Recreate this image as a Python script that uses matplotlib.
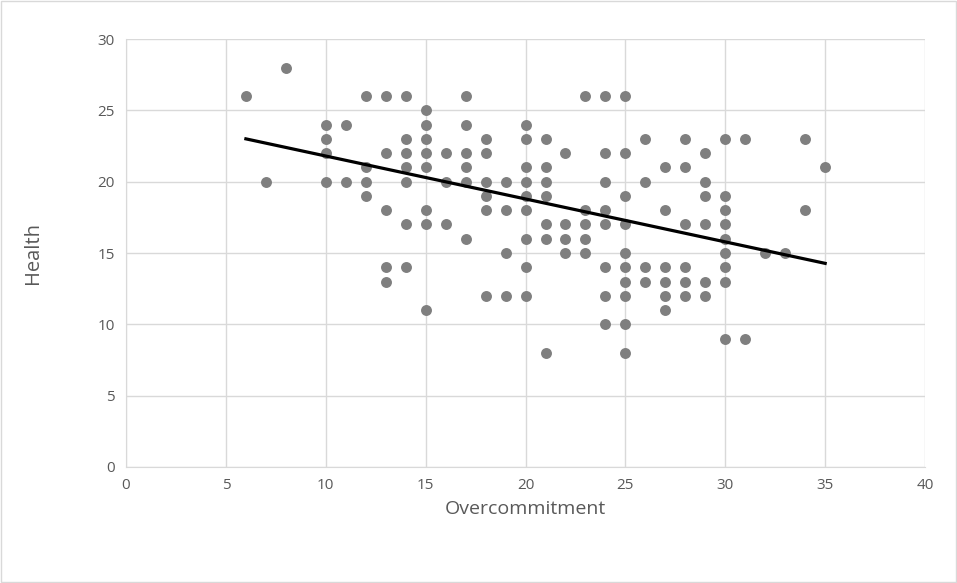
import matplotlib.pyplot as plt
import numpy as np
from matplotlib.patches import Rectangle

# Overcommitment score -> list of Health scores observed at that score
health_by_overcommitment = {
    6: [26],
    7: [20],
    8: [28],
    10: [24, 23, 22, 20],
    11: [24, 20],
    12: [26, 21, 20, 19],
    13: [26, 22, 18, 14, 13],
    14: [26, 23, 22, 21, 20, 17, 14],
    15: [25, 24, 23, 22, 21, 18, 17, 11],
    16: [22, 20, 17],
    17: [26, 24, 22, 21, 20, 16],
    18: [23, 22, 20, 19, 18, 12],
    19: [20, 18, 15, 12],
    20: [24, 23, 21, 20, 19, 18, 16, 14, 12],
    21: [23, 21, 20, 19, 17, 16, 8],
    22: [22, 17, 16, 15],
    23: [26, 18, 17, 16, 15],
    24: [26, 22, 20, 18, 17, 14, 12, 10],
    25: [26, 22, 19, 17, 15, 14, 13, 12, 10, 8],
    26: [23, 20, 14, 13],
    27: [21, 18, 14, 13, 12, 11],
    28: [23, 21, 17, 14, 13, 12],
    29: [22, 20, 19, 17, 13, 12],
    30: [23, 19, 18, 17, 16, 15, 14, 13, 9],
    31: [23, 9],
    32: [15],
    33: [15],
    34: [23, 18],
    35: [21],
}

# linear trendline as shown on the chart (overlapping points hide some data)
trend_slope = -0.301
trend_intercept = 24.81

overcommitment = []
health = []
for k, vals in health_by_overcommitment.items():
    for v in vals:
        overcommitment.append(k)
        health.append(v)
overcommitment = np.array(overcommitment)
health = np.array(health)

trend_x = np.array([overcommitment.min(), overcommitment.max()])
trend_y = trend_slope * trend_x + trend_intercept

plt.rcParams['font.family'] = ['Open Sans', 'DejaVu Sans']

fig = plt.figure(figsize=(9.57, 5.83), dpi=100)
ax = fig.add_axes([0.1317, 0.199, 0.8349, 0.734])

grid_col = '#d9d9d9'
text_col = '#595959'

ax.scatter(overcommitment, health, s=62, color='#7f7f7f', zorder=3, linewidths=0)
ax.plot(trend_x, trend_y, color='black', linewidth=2.3, zorder=4)

ax.set_xlim(0, 40)
ax.set_ylim(0, 30)
ax.set_xticks(range(0, 41, 5))
ax.set_yticks(range(0, 31, 5))
ax.grid(True, color=grid_col, linewidth=1.0, zorder=0)
ax.set_axisbelow(True)

for side in ['top', 'right']:
    ax.spines[side].set_visible(False)
ax.spines['left'].set_color(grid_col)
ax.spines['bottom'].set_color(grid_col)
ax.tick_params(length=0, labelsize=11, colors=text_col, pad=8)

ax.set_xlabel('Overcommitment', fontsize=14, color=text_col, labelpad=5)
ax.set_ylabel('Health', fontsize=14.5, color=text_col, labelpad=39)

fig.patches.append(Rectangle((0.001, 0.001), 0.998, 0.997, transform=fig.transFigure,
                             fill=False, edgecolor=grid_col, linewidth=1.0))

fig.savefig('out.png', dpi=100)
